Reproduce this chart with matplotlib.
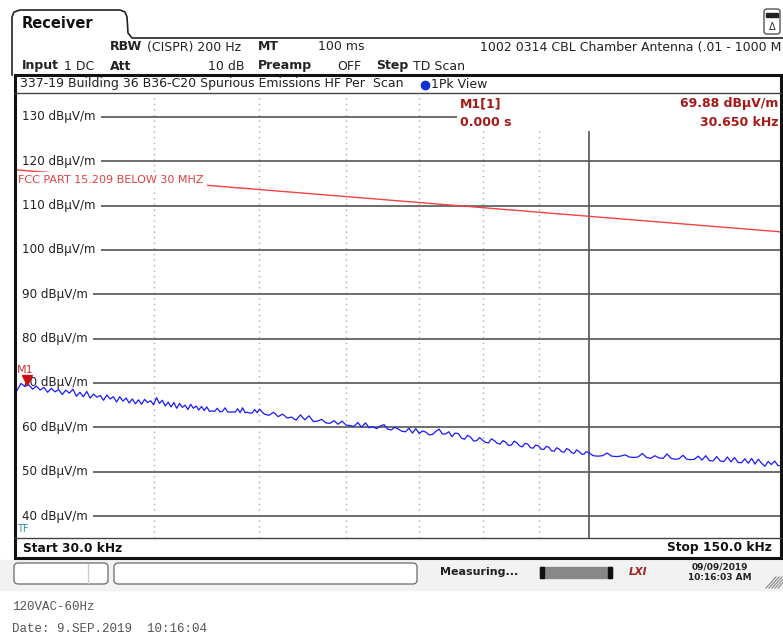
import matplotlib
matplotlib.use("Agg")
import matplotlib.pyplot as plt
import matplotlib.transforms as mtransforms
from matplotlib.patches import FancyBboxPatch, Rectangle
from matplotlib.lines import Line2D

# ---- data ----
# 30 - 50 kHz, quarter-kHz points
freq_a = [30.0, 30.25, 30.5, 30.75, 31.0, 31.25, 31.5, 31.75, 32.0, 32.25,
          32.5, 32.75, 33.0, 33.25, 33.5, 33.75, 34.0, 34.25, 34.5, 34.75,
          35.0, 35.25, 35.5, 35.75, 36.0, 36.25, 36.5, 36.75, 37.0, 37.25,
          37.5, 37.75, 38.0, 38.25, 38.5, 38.75, 39.0, 39.25, 39.5, 39.75,
          40.0, 40.25, 40.5, 40.75, 41.0, 41.25, 41.5, 41.75, 42.0, 42.25,
          42.5, 42.75, 43.0, 43.25, 43.5, 43.75, 44.0, 44.25, 44.5, 44.75,
          45.0, 45.25, 45.5, 45.75, 46.0, 46.25, 46.5, 46.75, 47.0, 47.25,
          47.5, 47.75, 48.0, 48.25, 48.5, 48.75, 49.0, 49.25, 49.5, 49.75]
level_a = [68.3, 69.9, 69.2, 69.6, 68.6, 69.3, 68.4, 69.0, 67.9, 68.8,
           68.0, 68.5, 67.4, 68.4, 67.7, 68.6, 67.0, 67.9, 66.9, 68.1,
           66.6, 67.5, 66.8, 67.2, 66.1, 67.3, 66.4, 66.9, 65.7, 66.9,
           65.9, 66.6, 65.5, 66.4, 65.3, 66.2, 65.2, 66.3, 65.6, 66.0,
           65.1, 66.7, 65.4, 66.1, 64.8, 65.7, 64.6, 65.6, 64.3, 65.4,
           64.5, 65.0, 64.0, 65.2, 64.3, 64.8, 63.9, 64.7, 63.8, 64.6,
           63.6, 63.7, 63.6, 64.3, 63.5, 63.6, 64.4, 63.5, 63.4, 63.5,
           63.4, 64.2, 63.3, 64.4, 63.3, 63.4, 63.2, 63.3, 64.0, 63.3]

# 50 - 100 kHz, half-kHz points
freq_b = [50.0, 50.5, 51.0, 51.5, 52.0, 52.5, 53.0, 53.5, 54.0, 54.5,
          55.0, 55.5, 56.0, 56.5, 57.0, 57.5, 58.0, 58.5, 59.0, 59.5,
          60.0, 60.5, 61.0, 61.5, 62.0, 62.5, 63.0, 63.5, 64.0, 64.5,
          65.0, 65.5, 66.0, 66.5, 67.0, 67.5, 68.0, 68.5, 69.0, 69.5,
          70.0, 70.5, 71.0, 71.5, 72.0, 72.5, 73.0, 73.5, 74.0, 74.5,
          75.0, 75.5, 76.0, 76.5, 77.0, 77.5, 78.0, 78.5, 79.0, 79.5,
          80.0, 80.5, 81.0, 81.5, 82.0, 82.5, 83.0, 83.5, 84.0, 84.5,
          85.0, 85.5, 86.0, 86.5, 87.0, 87.5, 88.0, 88.5, 89.0, 89.5,
          90.0, 90.5, 91.0, 91.5, 92.0, 92.5, 93.0, 93.5, 94.0, 94.5,
          95.0, 95.5, 96.0, 96.5, 97.0, 97.5, 98.0, 98.5, 99.0, 99.5]
level_b = [64.1, 63.0, 62.7, 63.4, 62.4, 63.0, 62.1, 62.3, 61.6, 62.8,
           61.7, 62.6, 61.3, 61.4, 61.8, 61.0, 60.9, 61.5, 60.7, 61.4,
           60.5, 60.4, 60.2, 61.1, 60.0, 61.0, 59.9, 60.1, 59.7, 60.3,
           60.6, 59.6, 59.4, 60.0, 59.6, 59.1, 59.0, 59.8, 58.7, 59.7,
           58.6, 59.2, 58.9, 58.3, 58.4, 59.1, 59.6, 58.5, 58.5, 59.0,
           57.9, 58.7, 58.6, 57.6, 57.3, 58.2, 57.8, 56.9, 57.0, 57.7,
           57.1, 56.6, 56.5, 57.4, 57.0, 56.4, 56.2, 57.0, 56.6, 55.9,
           56.0, 56.9, 56.5, 55.8, 55.6, 56.4, 56.2, 55.4, 55.3, 56.0,
           55.8, 55.1, 55.0, 55.7, 55.5, 54.7, 54.6, 55.4, 55.1, 54.5,
           54.4, 55.2, 54.9, 54.3, 54.1, 54.9, 54.6, 54.0, 53.9, 54.5]

# 100 - 150 kHz, one-kHz points
freq_c = [100, 101, 102, 103, 104, 105, 106, 107, 108, 109,
          110, 111, 112, 113, 114, 115, 116, 117, 118, 119,
          120, 121, 122, 123, 124, 125, 126, 127, 128, 129,
          130, 131, 132, 133, 134, 135, 136, 137, 138, 139,
          140, 141, 142, 143, 144, 145, 146, 147, 148, 149, 150]
level_c = [54.3, 53.6, 53.5, 53.6, 54.2, 53.5, 53.4, 53.5, 53.8, 53.3,
           53.2, 53.3, 54.1, 53.2, 53.0, 53.6, 53.1, 53.0, 54.0, 53.0,
           52.8, 52.9, 53.7, 52.8, 52.7, 52.8, 53.5, 52.6, 53.6, 52.5,
           52.4, 53.4, 52.4, 52.3, 53.3, 52.2, 53.2, 52.1, 52.0, 52.9,
           51.9, 53.0, 51.7, 52.8, 51.9, 51.2, 52.3, 51.6, 52.4, 51.4, 51.3]

limit_freq_khz = [30, 150]
limit_dbuv = [118.06, 104.08]

grid_levels = [130, 120, 110, 100, 90, 80, 70, 60, 50, 40]
dotted_freqs = [40, 50, 60, 70, 80, 90]
marker_freq = 30.65
marker_level = 69.88

freq_khz = freq_a + freq_b + freq_c
level_dbuv = level_a + level_b + level_c

W, H = 783, 635
fig = plt.figure(figsize=(W / 100, H / 100), dpi=100)
fig.patch.set_facecolor("white")


def px(x, y):
    return x / W, 1 - y / H


def ftext(x, y, s, **kw):
    kw.setdefault("fontsize", 9)
    kw.setdefault("va", "center")
    kw.setdefault("color", "#222222")
    fig.text(*px(x, y), s, **kw)


def fline(xs, ys, **kw):
    fig.add_artist(Line2D([x / W for x in xs], [1 - y / H for y in ys], **kw))


# ---- instrument chrome ----
fline([12, 12, 14, 20, 120, 125, 127, 128, 132, 783],
      [75, 17, 12, 10, 10, 12, 17, 33, 38, 38], color="#222222", lw=1.2)
fig.add_artist(FancyBboxPatch(px(764, 34), 16 / W, 25 / H,
                              boxstyle="round,pad=0,rounding_size=0.004",
                              fc="white", ec="#555555", lw=1))
ftext(772, 27, "Δ", fontsize=7, ha="center", color="#333333")
fig.add_artist(Rectangle(px(766, 17), 12 / W, 4 / H, color="#222222"))
ftext(22, 24, "Receiver", fontsize=10.5, fontweight="bold", color="#111111")

ftext(110, 47, "RBW", fontweight="bold")
ftext(147, 47, "(CISPR) 200 Hz")
ftext(258, 47, "MT", fontweight="bold")
ftext(318, 47, "100 ms")
ftext(781, 47, "1002 0314 CBL Chamber Antenna (.01 - 1000 M", ha="right")
ftext(22, 66, "Input", fontweight="bold")
ftext(64, 66, "1 DC")
ftext(110, 66, "Att", fontweight="bold")
ftext(244, 66, "10 dB", ha="right")
ftext(258, 66, "Preamp", fontweight="bold")
ftext(337, 66, "OFF")
ftext(376, 66, "Step", fontweight="bold")
ftext(413, 66, "TD Scan")

# frame of the diagram
fig.add_artist(Rectangle(px(15, 558), 766 / W, 483 / H, fill=False,
                         ec="#111111", lw=2.2))
fline([15, 781], [93, 93], color="#444444", lw=1)
fline([15, 781], [538, 538], color="#444444", lw=1)
ftext(20, 84, "337-19 Building 36 B36-C20 Spurious Emissions HF Per  Scan")
fig.add_artist(Line2D([425 / W], [1 - 85 / H], marker="o", ms=6, color="#1030d0"))
ftext(431, 84, "1Pk View")
ftext(23, 548, "Start 30.0 kHz", fontsize=8.8, fontweight="bold", color="#111111")
ftext(772, 548, "Stop 150.0 kHz", fontsize=8.8, fontweight="bold", ha="right",
      color="#111111")

# status bar
fig.add_artist(Rectangle(px(0, 590), 1, 30 / H, color="#f2f2f2", zorder=0))
fig.add_artist(FancyBboxPatch(px(14, 584), 94 / W, 21 / H,
                              boxstyle="round,pad=0,rounding_size=0.006",
                              fc="white", ec="#777777", lw=1))
fline([88, 88], [564, 583], color="#cccccc", lw=1)
fig.add_artist(FancyBboxPatch(px(114, 584), 303 / W, 21 / H,
                              boxstyle="round,pad=0,rounding_size=0.006",
                              fc="white", ec="#777777", lw=1))
ftext(440, 572, "Measuring...", fontsize=8, fontweight="bold")
fig.add_artist(Rectangle(px(540, 578), 72 / W, 11 / H, color="#888888"))
fig.add_artist(Rectangle(px(540, 578), 4 / W, 11 / H, color="#111111"))
fig.add_artist(Rectangle(px(608, 578), 4 / W, 11 / H, color="#111111"))
ftext(638, 572, "LXI", fontsize=7.5, fontweight="bold", style="italic",
      color="#a02020", ha="center")
ftext(720, 567, "09/09/2019", fontsize=6.5, fontweight="bold", ha="center")
ftext(720, 578, "10:16:03 AM", fontsize=6.5, fontweight="bold", ha="center")
for i in range(5):
    fline([766 + i * 3, 776 + i * 3], [588, 577], color="#888888", lw=0.8)

ftext(12, 607, "120VAC-60Hz", family="Liberation Mono", fontsize=9,
      color="#555555")
ftext(12, 629, "Date: 9.SEP.2019  10:16:04", family="Liberation Mono",
      fontsize=9, color="#555555")

# ---- measurement diagram ----
ax = fig.add_axes([17 / W, (H - 538) / H, 764 / W, 445 / H])
ax.set_xscale("log")
ax.set_xlim(30, 150)
ax.set_ylim(35.04, 135.4)
ax.set_axis_off()

for f in dotted_freqs:
    ax.axvline(f, color="#aaaaaa", lw=1, ls=(0, (1, 3)), zorder=1)
ax.axvline(100, color="#555555", lw=1.2, zorder=1)

lab_tr = mtransforms.blended_transform_factory(ax.transAxes, ax.transData)
for lv in grid_levels:
    ax.axhline(lv, color="#555555", lw=1.2, zorder=1)
    ax.text(5 / 764, lv, f"{lv} dBµV/m", transform=lab_tr, fontsize=8.6,
            va="center", ha="left", color="#222222", zorder=2,
            bbox=dict(boxstyle="square,pad=0.45", fc="white", ec="none"))

# white box behind the marker readout
ax.add_patch(Rectangle(((457 - 17) / 764, (538 - 131) / 445),
                       1 - (457 - 17) / 764, 1, transform=ax.transAxes,
                       fc="white", ec="none", zorder=3))
red = "#a81818"
for txt, xx, yy, ha in [("M1[1]", (460 - 17) / 764, 104, "left"),
                        ("0.000 s", (460 - 17) / 764, 122, "left"),
                        (f"{marker_level:.2f} dBµV/m", 0.997, 104, "right"),
                        (f"{marker_freq:.3f} kHz", 0.997, 122, "right")]:
    ax.text(xx, (538 - yy) / 445, txt, transform=ax.transAxes, color=red,
            fontsize=9, fontweight="bold", va="center", ha=ha, zorder=4)

# limit line
ax.plot(limit_freq_khz, limit_dbuv, color="#ee4444", lw=1, zorder=2)
ax.text(30.05, 115.8, "FCC PART 15.209 BELOW 30 MHZ", fontsize=8,
        color="#e04040", va="center", ha="left", zorder=3,
        bbox=dict(boxstyle="square,pad=0.3", fc="white", ec="none"))

# trace
ax.plot(freq_khz, level_dbuv, color="#1a1aff", lw=0.9, zorder=5)

# marker M1
off = mtransforms.offset_copy(ax.transData, fig=fig, x=0, y=4, units="dots")
ax.plot(marker_freq, marker_level, marker="v", ms=7, color="#cc1010",
        transform=off, zorder=6)
ax.text(30.02, 72.9, "M1", color="#cc3030", fontsize=8, va="center", zorder=6)
ax.text(30.02, 37.1, "TF", color="#3090a0", fontsize=7, va="center", zorder=6)

fig.savefig("out.png", dpi=100)
